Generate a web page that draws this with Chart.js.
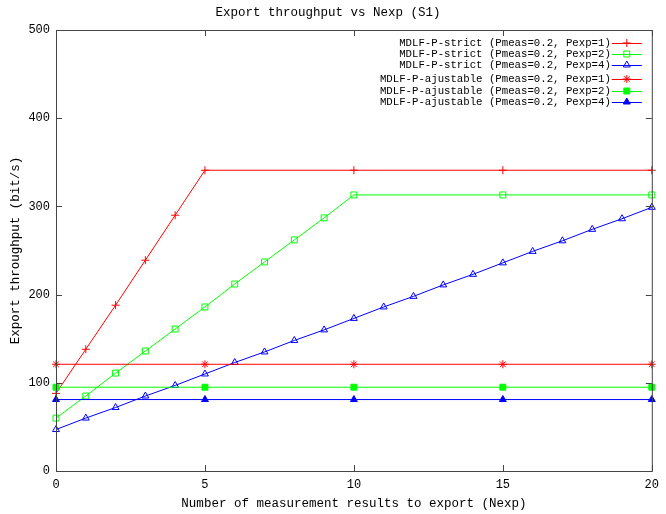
<!DOCTYPE html>
<html>
<head>
<meta charset="utf-8">
<title>Export throughput vs Nexp (S1)</title>
<script src="https://cdn.jsdelivr.net/npm/chart.js@4.4.1/dist/chart.umd.min.js"></script>
<style>
  html, body { margin: 0; padding: 0; background: #fff; }
  #chart { display: block; }
</style>
</head>
<body>
<canvas id="chart" width="666" height="514"></canvas>
<script>
// Values
const nexpStrict1 = [0, 1, 2, 3, 4, 5, 10, 15, 20];
const strict1 = [88, 138, 188, 239, 290, 341, 341, 341, 341];

const nexpStrict2 = [0, 1, 2, 3, 4, 5, 6, 7, 8, 9, 10, 15, 20];
const strict2 = [60, 85, 111, 136, 161, 186, 212, 237, 262, 287, 313, 313, 313];

const nexpStrict4 = [0, 1, 2, 3, 4, 5, 6, 7, 8, 9, 10, 11, 12, 13, 14, 15, 16, 17, 18, 19, 20];
const strict4 = [47, 60, 72, 85, 97, 110, 123, 135, 148, 160, 173, 186, 198, 211, 223, 236, 249, 261, 274, 286, 299];

const nexpAdj = [0, 5, 10, 15, 20];
const adj1 = [121, 121, 121, 121, 121];
const adj2 = [95, 95, 95, 95, 95];
const adj4 = [81, 81, 81, 81, 81];

const yTicks = [0, 100, 200, 300, 400, 500];
const xTicks = [0, 5, 10, 15, 20];

const seriesLabels = [
    'MDLF-P-strict (Pmeas=0.2, Pexp=1)',
    'MDLF-P-strict (Pmeas=0.2, Pexp=2)',
    'MDLF-P-strict (Pmeas=0.2, Pexp=4)',
    'MDLF-P-ajustable (Pmeas=0.2, Pexp=1)',
    'MDLF-P-ajustable (Pmeas=0.2, Pexp=2)',
    'MDLF-P-ajustable (Pmeas=0.2, Pexp=4)'
];

const FONT = "'Liberation Mono', 'DejaVu Sans Mono', monospace";
const NONE = 'rgba(0,0,0,0)';

function toPoints(xs, ys) {
    return xs.map((x, i) => ({ x: x, y: ys[i] }));
}

function makeSet(i, xs, ys, color, style, filled) {
    return {
        label: seriesLabels[i],
        data: toPoints(xs, ys),
        borderColor: color,
        borderWidth: 1,
        pointStyle: style,
        pointRadius: style === 'rect' ? 4.2 : 4,
        pointBorderWidth: 1,
        pointBorderColor: color,
        pointBackgroundColor: filled ? color : NONE,
        backgroundColor: filled ? color : NONE,
        fill: false,
        tension: 0,
        clip: false,
        order: 6 - i
    };
}

// gnuplot-like frame with inward ticks on all four sides
const framePlugin = {
    id: 'frame',
    afterDraw(chart) {
        const { ctx, chartArea: a, scales } = chart;
        ctx.save();
        ctx.strokeStyle = '#444';
        ctx.lineWidth = 1;
        ctx.strokeRect(a.left + 0.5, a.top + 0.5, a.right - a.left, a.bottom - a.top);
        ctx.beginPath();
        yTicks.forEach(v => {
            const y = Math.round(scales.y.getPixelForValue(v)) + 0.5;
            ctx.moveTo(a.left, y); ctx.lineTo(a.left + 6, y);
            ctx.moveTo(a.right, y); ctx.lineTo(a.right - 6, y);
        });
        xTicks.forEach(v => {
            const x = Math.round(scales.x.getPixelForValue(v)) + 0.5;
            ctx.moveTo(x, a.bottom); ctx.lineTo(x, a.bottom - 6);
            ctx.moveTo(x, a.top); ctx.lineTo(x, a.top + 6);
        });
        ctx.stroke();
        ctx.restore();
    }
};

// key in the top right corner: text right aligned, sample on its right
const keyPlugin = {
    id: 'gnukey',
    afterDraw(chart) {
        const { ctx, chartArea: a } = chart;
        const rows = [43, 54, 65, 79, 91, 102];
        const textRight = a.right - 41;
        const x0 = a.right - 40, x1 = a.right - 10;
        ctx.save();
        ctx.font = '10.7px ' + FONT;
        ctx.textAlign = 'right';
        ctx.textBaseline = 'middle';
        chart.data.datasets.forEach((ds, i) => {
            const y = rows[i];
            ctx.fillStyle = '#000';
            ctx.fillText(ds.label, textRight, y);
            ctx.strokeStyle = ds.borderColor;
            ctx.lineWidth = 1;
            ctx.beginPath();
            ctx.moveTo(x0, y + 0.5);
            ctx.lineTo(x1, y + 0.5);
            ctx.stroke();
            ctx.fillStyle = ds.pointBackgroundColor;
            ctx.strokeStyle = ds.pointBorderColor;
            if (Chart.helpers && Chart.helpers.drawPoint) {
                Chart.helpers.drawPoint(ctx, {
                    pointStyle: ds.pointStyle,
                    radius: ds.pointRadius,
                    borderWidth: 1,
                    rotation: 0
                }, (x0 + x1) / 2, y);
            }
        });
        ctx.restore();
    }
};

function initChart() {
    const datasets = [
        makeSet(0, nexpStrict1, strict1, '#ff0000', 'cross', false),
        makeSet(1, nexpStrict2, strict2, '#00ff00', 'rect', false),
        makeSet(2, nexpStrict4, strict4, '#0000ff', 'triangle', false),
        makeSet(3, nexpAdj, adj1, '#ff0000', 'star', false),
        makeSet(4, nexpAdj, adj2, '#00ff00', 'rect', true),
        makeSet(5, nexpAdj, adj4, '#0000ff', 'triangle', true)
    ];

    const ctx = document.getElementById('chart').getContext('2d');
    new Chart(ctx, {
        type: 'line',
        data: { datasets },
        plugins: [framePlugin, keyPlugin],
        options: {
            responsive: false,
            animation: false,
            devicePixelRatio: 1,
            layout: { padding: { left: 0, right: 10, top: 0, bottom: 0 } },
            plugins: {
                legend: { display: false },
                tooltip: { enabled: false },
                title: {
                    display: true,
                    text: 'Export throughput vs Nexp (S1)',
                    color: '#000',
                    font: { family: FONT, size: 12.5, weight: 'normal', lineHeight: 1.12 },
                    padding: { top: 6, bottom: 10 }
                }
            },
            scales: {
                x: {
                    type: 'linear',
                    min: 0,
                    max: 20,
                    afterFit: s => { s.height = 43; },
                    afterBuildTicks: s => { s.ticks = xTicks.map(v => ({ value: v })); },
                    grid: { display: false, drawTicks: false, tickLength: 0 },
                    border: { display: false },
                    ticks: {
                        color: '#000',
                        padding: 7,
                        maxRotation: 0,
                        font: { family: FONT, size: 12 }
                    },
                    title: {
                        display: true,
                        text: 'Number of measurement results to export (Nexp)',
                        color: '#000',
                        font: { family: FONT, size: 12.5 },
                        padding: { top: 0, bottom: 3 }
                    }
                },
                y: {
                    min: 0,
                    max: 500,
                    afterFit: s => { s.width = 56; },
                    afterBuildTicks: s => { s.ticks = yTicks.map(v => ({ value: v })); },
                    grid: { display: false, drawTicks: false, tickLength: 0 },
                    border: { display: false },
                    ticks: {
                        color: '#000',
                        padding: 6,
                        font: { family: FONT, size: 12 }
                    },
                    title: {
                        display: true,
                        text: 'Export throughput (bit/s)',
                        color: '#000',
                        font: { family: FONT, size: 12.5 },
                        padding: { top: 8, bottom: 0 }
                    }
                }
            }
        }
    });
}

document.addEventListener('DOMContentLoaded', initChart);
</script>
</body>
</html>
